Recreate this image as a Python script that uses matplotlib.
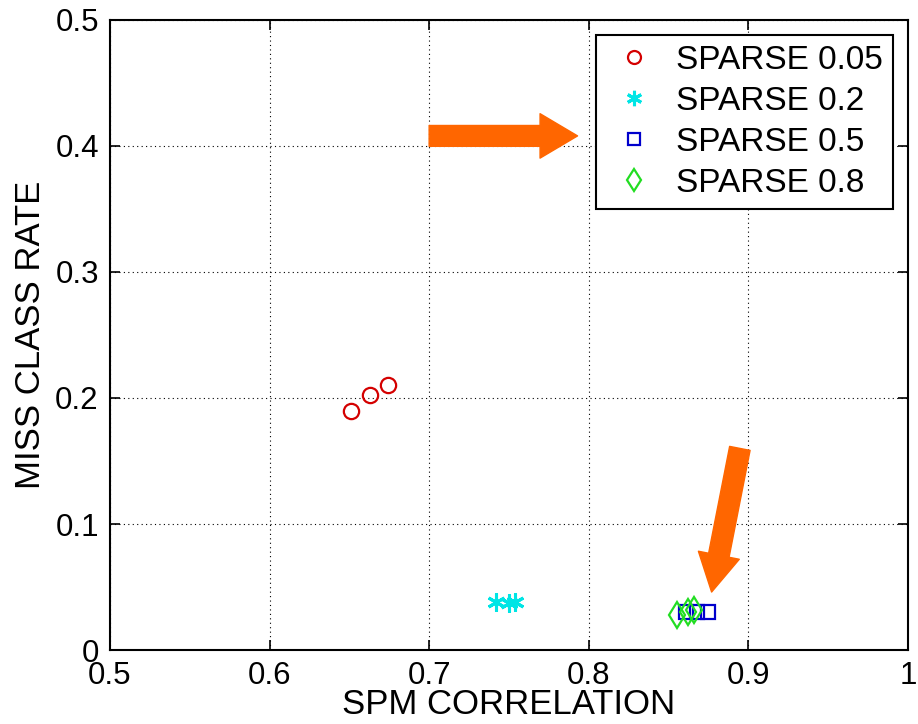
import matplotlib
matplotlib.use("Agg")
import matplotlib.pyplot as plt
from matplotlib.patches import FancyArrowPatch

plt.rcParams['font.family'] = ['Liberation Sans', 'DejaVu Sans']

# SPM correlation vs. misclassification rate for each sparsity level
sparse_005_x = [0.651, 0.663, 0.674]
sparse_005_y = [0.190, 0.202, 0.210]

sparse_02_x = [0.742, 0.750, 0.754]
sparse_02_y = [0.038, 0.037, 0.038]

sparse_05_x = [0.861, 0.868, 0.875]
sparse_05_y = [0.030, 0.030, 0.030]

sparse_08_x = [0.855, 0.862, 0.866]
sparse_08_y = [0.028, 0.030, 0.032]

series_labels = ['SPARSE 0.05', 'SPARSE 0.2', 'SPARSE 0.5', 'SPARSE 0.8']
x_ticks = [0.5, 0.6, 0.7, 0.8, 0.9, 1.0]
x_tick_labels = ['0.5', '0.6', '0.7', '0.8', '0.9', '1']
y_ticks = [0, 0.1, 0.2, 0.3, 0.4, 0.5]
y_tick_labels = ['0', '0.1', '0.2', '0.3', '0.4', '0.5']

fig = plt.figure(figsize=(9.18, 7.24), dpi=100)
ax = fig.add_axes([0.1198, 0.1022, 0.8692, 0.8702])

ax.plot(sparse_005_x, sparse_005_y, linestyle='none', marker='o', ms=11,
        mfc='none', mec='#d40000', mew=1.6, label=series_labels[0])
ax.plot(sparse_02_x, sparse_02_y, linestyle='none', marker=(6, 2, 0), ms=13,
        mfc='none', mec='#00e5e5', mew=2.2, label=series_labels[1])
ax.plot(sparse_05_x, sparse_05_y, linestyle='none', marker='s', ms=10,
        mfc='none', mec='#0000cc', mew=1.6, label=series_labels[2])
ax.plot(sparse_08_x, sparse_08_y, linestyle='none', marker='d', ms=13,
        mfc='none', mec='#22dd22', mew=1.6, label=series_labels[3])

ax.set_xlim(0.5, 1.0)
ax.set_ylim(0, 0.5)
ax.set_xticks(x_ticks)
ax.set_xticklabels(x_tick_labels)
ax.set_yticks(y_ticks)
ax.set_yticklabels(y_tick_labels)
ax.tick_params(direction='in', length=7, width=1.2, top=True, right=True,
               labelsize=22.5, pad=8, colors='black')
ax.grid(True, linestyle=(0, (1, 3)), color='black', linewidth=0.8)
for sp in ax.spines.values():
    sp.set_linewidth(1.5)

ax.set_xlabel('SPM CORRELATION', fontsize=25, labelpad=-2)
ax.set_ylabel('MISS CLASS RATE', fontsize=25, labelpad=6)

leg = ax.legend(loc='upper right', fontsize=24, frameon=True, fancybox=False,
                edgecolor='black', framealpha=1, borderaxespad=0.45,
                handletextpad=0.4, labelspacing=0.3, borderpad=0.3,
                markerscale=0.85, handlelength=1.7)
leg.get_frame().set_linewidth(1.5)

# Orange arrows pointing at regions of interest
orange = '#ff6600'
arrow_h = FancyArrowPatch((0.700, 0.408), (0.793, 0.408),
                          arrowstyle='simple,head_length=27,head_width=32,tail_width=15',
                          color=orange, shrinkA=0, shrinkB=0, zorder=5)
ax.add_patch(arrow_h)
arrow_v = FancyArrowPatch((0.8947, 0.160), (0.877, 0.046),
                          arrowstyle='simple,head_length=27,head_width=30,tail_width=15',
                          color=orange, shrinkA=0, shrinkB=0, zorder=5)
ax.add_patch(arrow_v)

fig.savefig('out.png', dpi=100)
